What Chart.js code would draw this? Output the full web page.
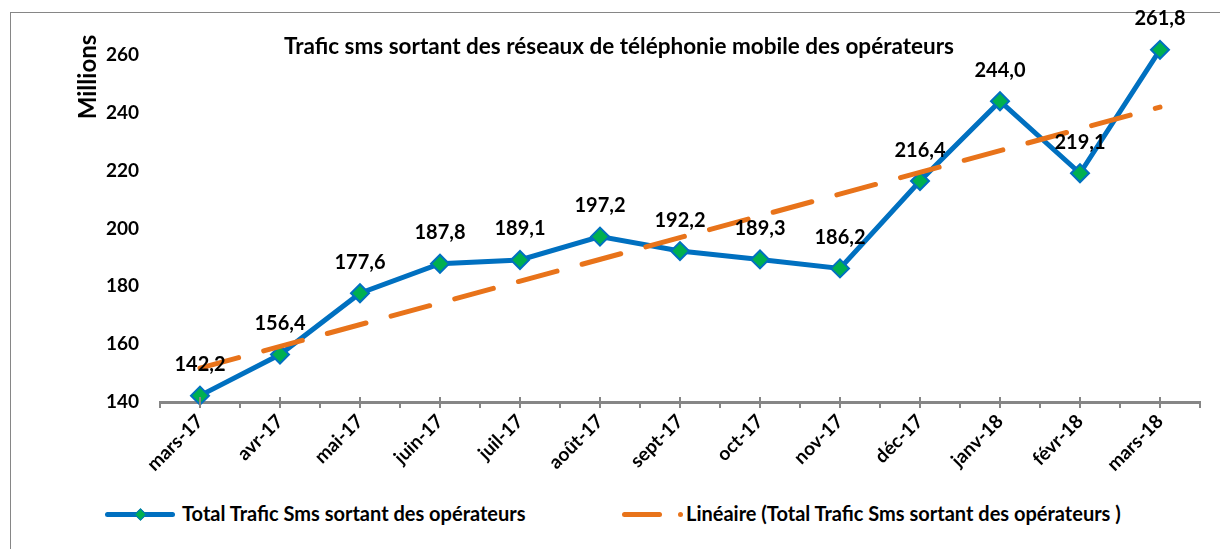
<!DOCTYPE html>
<html>
<head>
<meta charset="utf-8">
<script src="https://cdn.jsdelivr.net/npm/chart.js@4.4.1/dist/chart.umd.min.js"></script>
<style>
  body { margin: 0; background: #fff; font-family: Lato, sans-serif; }
  #frame { position: absolute; left: 10px; top: 12px; width: 1230px; height: 560px; border: 1px solid #868686; }
  #wrap { position: absolute; left: 0; top: 0; width: 1220px; height: 490px; }
  .legend { position: absolute; top: 501px; font-weight: bold; font-size: 20px; color: #000; white-space: nowrap; }
  .sw { position: absolute; border-radius: 3px; }
</style>
</head>
<body>
<div id="frame"></div>
<div id="wrap"><canvas id="chart1"></canvas></div>

<div class="legend" style="left:105px;width:80px;height:24px;">
  <span class="sw" style="left:0;top:11px;width:70px;height:5px;background:#0070C0;"></span>
  <span class="sw" style="left:31px;top:9px;width:7px;height:7px;background:#00B050;border:1px solid #0070C0;border-radius:0;transform:rotate(45deg);"></span>
</div>
<div class="legend" id="leg1" style="left:182px;">Total Trafic Sms sortant des opérateurs</div>
<div class="legend" style="left:622px;width:70px;height:24px;">
  <span class="sw" style="left:0;top:11px;width:40px;height:5px;background:#E8731A;"></span>
  <span class="sw" style="left:56px;top:11px;width:5px;height:5px;background:#E8731A;border-radius:50%;"></span>
</div>
<div class="legend" id="leg2" style="left:686px;">Linéaire (Total Trafic Sms sortant des opérateurs )</div>

<script>
var labels = ['mars-17', 'avr-17', 'mai-17', 'juin-17', 'juil-17', 'août-17', 'sept-17', 'oct-17', 'nov-17', 'déc-17', 'janv-18', 'févr-18', 'mars-18'];
var smsTotal = [142.2, 156.4, 177.6, 187.8, 189.1, 197.2, 192.2, 189.3, 186.2, 216.4, 244.0, 219.1, 261.8];
// trend line: first and last point only
var trendEnds = [151.7, 242.0];
var yTicks = [140, 160, 180, 200, 220, 240, 260];

var trend = labels.map(function () { return null; });
trend[0] = trendEnds[0];
trend[labels.length - 1] = trendEnds[1];

var axisGray = '#868686';

// value labels, title, y title, cross ticks on x axis
var extras = {
    id: 'extras',
    afterDatasetsDraw: function (chart) {
        var c = chart.ctx;
        var meta = chart.getDatasetMeta(0);
        c.save();
        c.fillStyle = '#000';
        c.font = 'bold 20px Lato, sans-serif';
        c.textAlign = 'center';
        c.textBaseline = 'middle';
        meta.data.forEach(function (pt, i) {
            c.fillText(smsTotal[i].toFixed(1).replace('.', ','), pt.x, pt.y - 31);
        });
        c.restore();
    },
    afterDraw: function (chart) {
        var c = chart.ctx;
        var xs = chart.scales.x;
        var y0 = chart.chartArea.bottom;
        c.save();
        c.strokeStyle = axisGray;
        c.lineWidth = 2;
        labels.forEach(function (l, i) {
            var x = xs.getPixelForValue(i);
            c.beginPath();
            c.moveTo(x, y0 - 5);
            c.lineTo(x, y0 + 6);
            c.stroke();
        });
        c.fillStyle = '#000';
        c.font = 'bold 22.5px Lato, sans-serif';
        c.textAlign = 'center';
        c.textBaseline = 'middle';
        c.fillText('Trafic sms sortant des réseaux de téléphonie mobile des opérateurs', 619, 47);
        c.translate(88, 77);
        c.rotate(-Math.PI / 2);
        c.font = 'bold 24px Lato, sans-serif';
        c.fillText('Millions', 0, 0);
        c.restore();
    }
};

var ctx = document.getElementById('chart1').getContext('2d');
var myChart = new Chart(ctx, {
    type: 'line',
    data: {
        labels: labels,
        datasets: [
            {
                label: 'Total Trafic Sms sortant des opérateurs',
                data: smsTotal,
                borderColor: '#0070C0',
                borderWidth: 5,
                pointStyle: 'rectRot',
                pointRadius: 9,
                pointHoverRadius: 9,
                pointBackgroundColor: '#00B050',
                pointBorderColor: '#0070C0',
                pointBorderWidth: 2,
                tension: 0,
                clip: false,
                order: 1
            },
            {
                label: 'Linéaire (Total Trafic Sms sortant des opérateurs )',
                data: trend,
                spanGaps: true,
                borderColor: '#E8731A',
                borderWidth: 5,
                borderDash: [40, 26],
                borderCapStyle: 'round',
                pointRadius: 0,
                tension: 0,
                clip: false,
                order: 0
            }
        ]
    },
    options: {
        responsive: true,
        maintainAspectRatio: false,
        animation: false,
        layout: { padding: { left: 100, right: 20, top: 55, bottom: 0 } },
        plugins: {
            legend: { display: false },
            tooltip: { enabled: false }
        },
        scales: {
            x: {
                offset: true,
                afterFit: function (scale) { scale.height = 88; },
                grid: {
                    offset: true,
                    drawOnChartArea: false,
                    color: axisGray,
                    lineWidth: 2,
                    tickLength: 6
                },
                border: { color: axisGray, width: 3 },
                ticks: {
                    color: '#000',
                    maxRotation: 45,
                    minRotation: 45,
                    padding: 2,
                    font: { family: 'Lato, sans-serif', size: 19, weight: 'bold' }
                }
            },
            y: {
                min: yTicks[0],
                max: yTicks[yTicks.length - 1],
                afterFit: function (scale) { scale.width = 60; },
                grid: { display: false, drawTicks: false },
                border: { display: false },
                ticks: {
                    stepSize: 20,
                    color: '#000',
                    padding: 21,
                    font: { family: 'Lato, sans-serif', size: 19, weight: 'bold' }
                }
            }
        }
    },
    plugins: [extras]
});
</script>
</body>
</html>
